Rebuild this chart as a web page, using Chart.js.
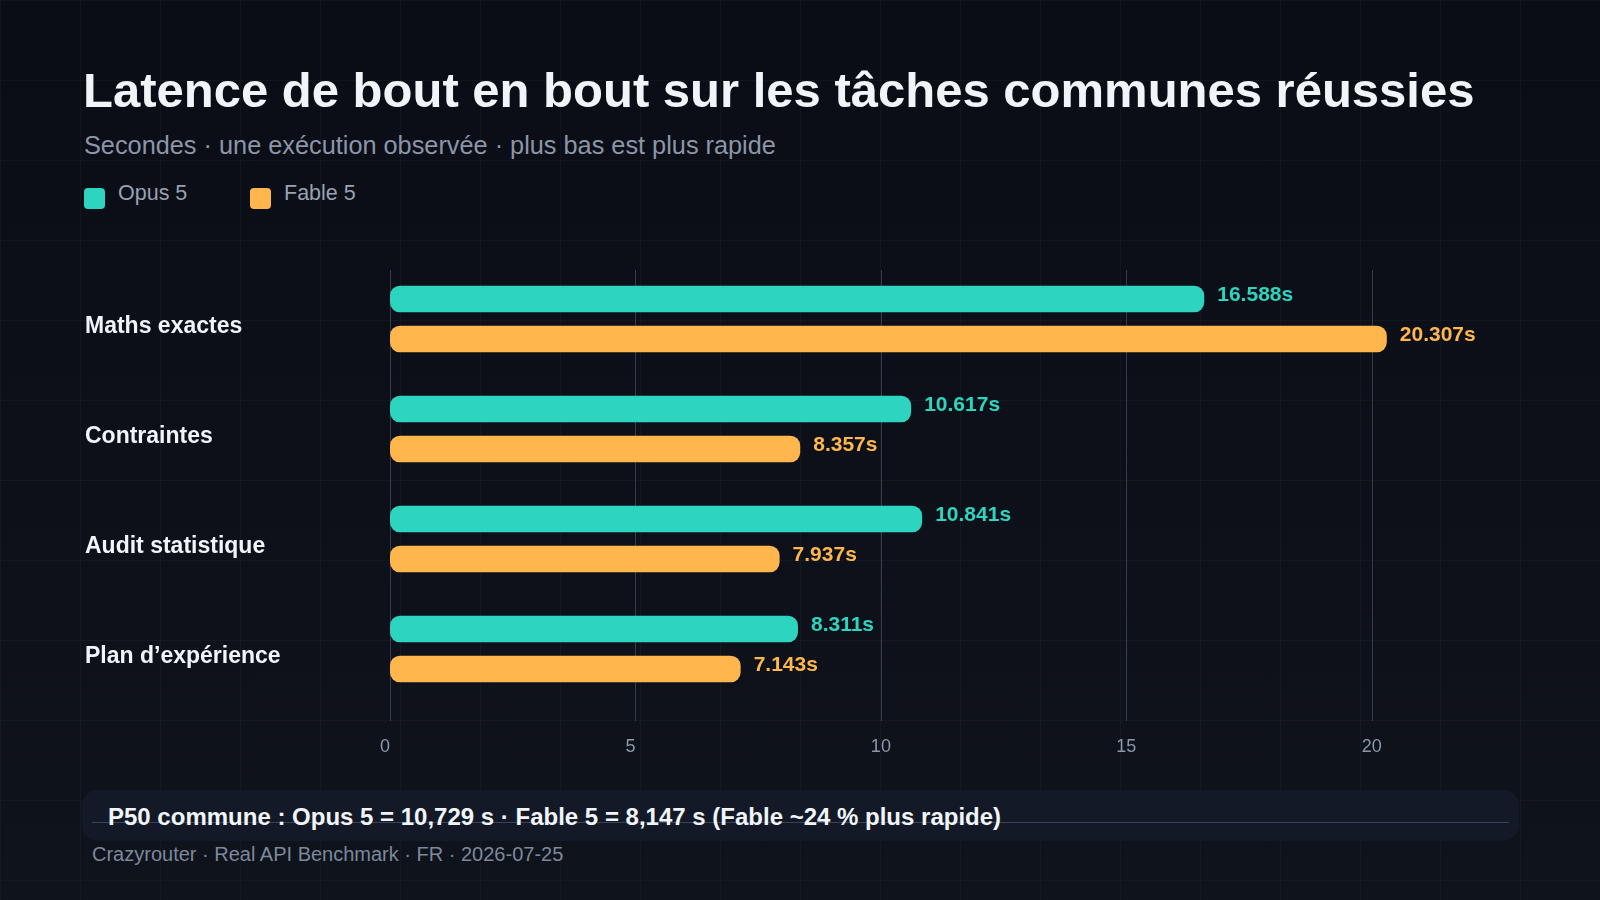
<!DOCTYPE html>
<html lang="fr">
<head>
<meta charset="UTF-8">
<title>Latence de bout en bout</title>
<style>
    body {
        margin: 0;
        width: 1600px;
        height: 900px;
        overflow: hidden;
        font-family: 'Liberation Sans', Arial, sans-serif;
        background-color: #0c1018;
        background-image:
            linear-gradient(rgba(255,255,255,0.028) 1px, transparent 1px),
            linear-gradient(90deg, rgba(255,255,255,0.028) 1px, transparent 1px),
            linear-gradient(180deg, #0a0d15 0%, #0f131c 100%);
        background-size: 80px 80px, 80px 80px, 100% 100%;
        position: relative;
    }
    .title {
        position: absolute; left: 83px; top: 66px;
        font-size: 49px; line-height: 49px; font-weight: 700;
        color: #f1f5f9; white-space: nowrap;
    }
    .subtitle {
        position: absolute; left: 84px; top: 133px;
        font-size: 25.3px; line-height: 25px;
        color: #8b96a9; white-space: nowrap;
    }
    .legend { position: absolute; top: 183px; left: 84px; }
    .legend-item { position: absolute; top: 0; white-space: nowrap; }
    .legend-box {
        position: absolute; top: 5px; left: 0;
        width: 21px; height: 21px; border-radius: 4px;
    }
    .legend-text {
        position: absolute; left: 34px; top: 0;
        font-size: 21.5px; line-height: 21.5px; color: #98a2b3;
    }
    .chart-wrap {
        position: absolute; left: 85px; top: 240px;
        width: 1440px; height: 524px;
    }
    .note {
        position: absolute; left: 82px; top: 790px;
        width: 1437px; height: 51px; border-radius: 16px;
        background: #131926;
    }
    .note-line {
        position: absolute; left: 10px; right: 10px; top: 32px;
        height: 1px; background: #3a4458;
    }
    .note-text {
        position: absolute; left: 26px; top: 15px;
        font-size: 24px; line-height: 24px; font-weight: 700;
        color: #f1f5f9; white-space: nowrap;
    }
    .source {
        position: absolute; left: 92px; top: 844px;
        font-size: 20px; line-height: 20px; color: #7d889c; white-space: nowrap;
    }
</style>
</head>
<body>
    <div class="title">Latence de bout en bout sur les tâches communes réussies</div>
    <div class="subtitle">Secondes · une exécution observée · plus bas est plus rapide</div>
    <div class="legend" id="legend"></div>
    <div class="chart-wrap"><canvas id="latencyChart"></canvas></div>
    <div class="note">
        <div class="note-line"></div>
        <div class="note-text">P50 commune : Opus 5 = 10,729 s · Fable 5 = 8,147 s (Fable ~24 % plus rapide)</div>
    </div>
    <div class="source">Crazyrouter · Real API Benchmark · FR · 2026-07-25</div>

    <script src="https://cdn.jsdelivr.net/npm/chart.js"></script>
    <script>
    // data
    const tasks = ['Maths exactes', 'Contraintes', 'Audit statistique', 'Plan d\u2019expérience'];
    const seriesNames = ['Opus 5', 'Fable 5'];
    const opusSeconds = [16.588, 10.617, 10.841, 8.311];
    const fableSeconds = [20.307, 8.357, 7.937, 7.143];
    const xTicks = [0, 5, 10, 15, 20];

    const TEAL = '#2dd4bf';
    const AMBER = '#ffb74d';
    const seriesColors = [TEAL, AMBER];
    const FONT = '"Liberation Sans", Arial, sans-serif';

    // html legend
    const legend = document.getElementById('legend');
    const legendX = [0, 166];
    seriesNames.forEach((name, i) => {
        const item = document.createElement('div');
        item.className = 'legend-item';
        item.style.left = legendX[i] + 'px';
        item.innerHTML = '<div class="legend-box" style="background:' + seriesColors[i] + '"></div>' +
            '<div class="legend-text">' + name + '</div>';
        legend.appendChild(item);
    });

    // vertical grid lines, a bit shorter at the top and running past the bottom
    const gridLines = {
        id: 'gridLines',
        beforeDatasetsDraw(chart) {
            const { ctx, chartArea, scales } = chart;
            ctx.save();
            ctx.strokeStyle = 'rgba(148,163,184,0.3)';
            ctx.lineWidth = 1;
            scales.x.ticks.forEach(t => {
                const x = Math.round(scales.x.getPixelForValue(t.value)) + 0.5;
                ctx.beginPath();
                ctx.moveTo(x, chartArea.top + 6);
                ctx.lineTo(x, chartArea.bottom + 17);
                ctx.stroke();
            });
            ctx.restore();
        }
    };

    // value labels at the end of each bar
    const valueLabels = {
        id: 'valueLabels',
        afterDatasetsDraw(chart) {
            const ctx = chart.ctx;
            ctx.save();
            ctx.font = 'bold 21px ' + FONT;
            ctx.textAlign = 'left';
            ctx.textBaseline = 'middle';
            chart.data.datasets.forEach((ds, i) => {
                chart.getDatasetMeta(i).data.forEach((bar, j) => {
                    ctx.fillStyle = ds.backgroundColor;
                    ctx.fillText(ds.data[j].toFixed(3) + 's', bar.x + 13, bar.y - 4);
                });
            });
            ctx.restore();
        }
    };

    const barStyle = {
        borderRadius: 10,
        borderSkipped: false,
        categoryPercentage: 0.727,
        barPercentage: 0.667
    };

    new Chart(document.getElementById('latencyChart'), {
        type: 'bar',
        data: {
            labels: tasks,
            datasets: [
                Object.assign({ label: seriesNames[0], data: opusSeconds, backgroundColor: TEAL }, barStyle),
                Object.assign({ label: seriesNames[1], data: fableSeconds, backgroundColor: AMBER }, barStyle)
            ]
        },
        options: {
            indexAxis: 'y',
            responsive: true,
            maintainAspectRatio: false,
            animation: false,
            layout: { padding: { top: 24, right: 6, left: 0, bottom: 0 } },
            plugins: {
                legend: { display: false },
                title: { display: false },
                tooltip: { enabled: false }
            },
            scales: {
                x: {
                    min: 0,
                    max: 23,
                    afterBuildTicks: s => { s.ticks = xTicks.map(v => ({ value: v })); },
                    afterFit: s => { s.height = 60; },
                    grid: { display: false, drawTicks: false, tickLength: 0 },
                    border: { display: false },
                    ticks: {
                        align: 'start',
                        labelOffset: -10,
                        padding: 32,
                        color: '#8b97ab',
                        font: { size: 18, family: FONT }
                    }
                },
                y: {
                    afterFit: s => { s.width = 305; },
                    grid: { display: false },
                    border: { display: false },
                    ticks: {
                        crossAlign: 'far',
                        labelOffset: 8,
                        padding: 0,
                        color: '#f1f5f9',
                        font: { size: 23, weight: 'bold', family: FONT }
                    }
                }
            }
        },
        plugins: [gridLines, valueLabels]
    });
    </script>
</body>
</html>
